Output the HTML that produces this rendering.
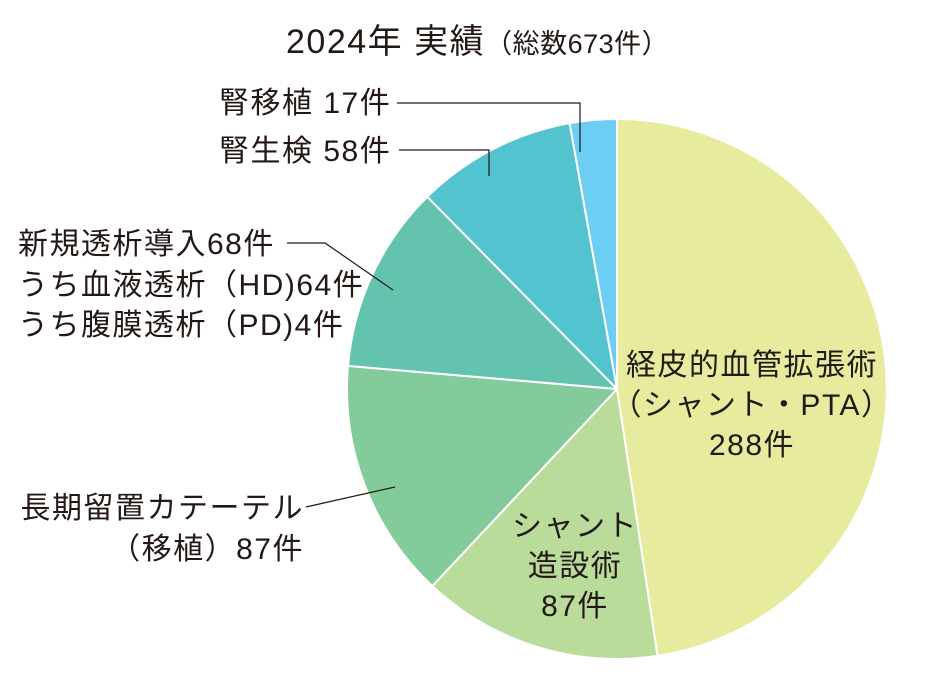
<!DOCTYPE html>
<html><head><meta charset="utf-8"><style>
body{margin:0;background:#fff;width:932px;height:677px;overflow:hidden}
text{font-family:"Liberation Sans","Noto Sans CJK JP",sans-serif;fill:#231815}
</style></head><body>
<svg width="932" height="677" viewBox="0 0 932 677" xmlns="http://www.w3.org/2000/svg">
<g stroke="#fff" stroke-width="2" stroke-linejoin="round">
<path d="M617,389 L617,119 A270,270 0 0 1 657.5,655.9 Z" fill="#e7eb9d"/>
<path d="M617,389 L657.5,655.9 A270,270 0 0 1 432.3,586 Z" fill="#b9dc9b"/>
<path d="M617,389 L432.3,586 A270,270 0 0 1 348,365.9 Z" fill="#84cb9b"/>
<path d="M617,389 L348,365.9 A270,270 0 0 1 427.3,196.8 Z" fill="#63c3af"/>
<path d="M617,389 L427.3,196.8 A270,270 0 0 1 569.6,123.2 Z" fill="#53c3cf"/>
<path d="M617,389 L569.6,123.2 A270,270 0 0 1 617,119 Z" fill="#6dcef4"/>
</g>
<g stroke="#231815" stroke-width="1.2" fill="none">
<polyline points="397,103 580,103 580,152"/>
<polyline points="399,150 489,150 489,176"/>
<polyline points="287,243 325,243 393,290"/>
<line x1="306" y1="507" x2="395" y2="487"/>
</g>
<text x="286" y="53" font-size="34" letter-spacing="1.5">2024年 実績<tspan font-size="27" letter-spacing="0.5">（総数673件）</tspan></text>
<g font-size="30" letter-spacing="1.5">
<text x="219" y="113">腎移植 17件</text>
<text x="219" y="161">腎生検 58件</text>
<text x="18" y="254">新規透析導入68件</text>
<text x="18" y="295">うち血液透析（HD)64件</text>
<text x="18" y="335">うち腹膜透析（PD)4件</text>
<text x="304" y="518" text-anchor="end">長期留置カテーテル</text>
<text x="304" y="559" text-anchor="end">（移植）87件</text>
<text x="752" y="375" text-anchor="middle">経皮的血管拡張術</text>
<text x="752" y="415" text-anchor="middle">（シャント・PTA）</text>
<text x="752" y="455" text-anchor="middle">288件</text>
<text x="575" y="536" text-anchor="middle">シャント</text>
<text x="575" y="576" text-anchor="middle">造設術</text>
<text x="575" y="616" text-anchor="middle">87件</text>
</g>
</svg>
</body></html>
